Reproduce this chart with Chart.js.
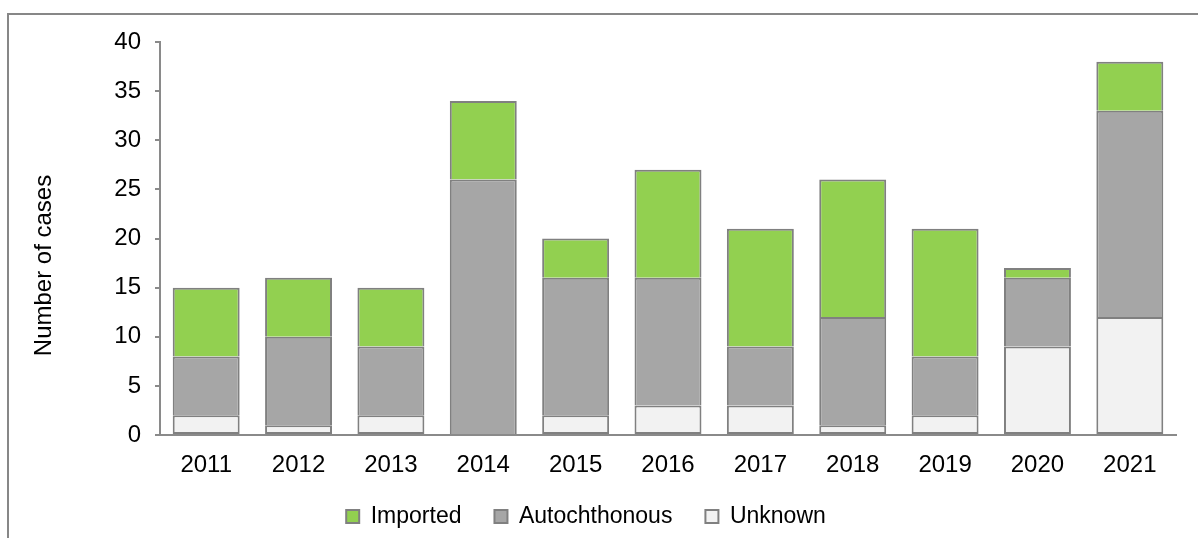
<!DOCTYPE html>
<html><head><meta charset="utf-8">
<script src="https://cdn.jsdelivr.net/npm/chart.js@4.4.1/dist/chart.umd.min.js"></script>
<style>
html,body{margin:0;padding:0;width:1198px;height:538px;overflow:hidden;background:#fff;}
#frame{position:absolute;left:7px;top:13px;width:1300px;height:700px;border-top:2px solid #878787;border-left:2px solid #878787;}
#wrap{position:absolute;left:-4px;top:0;width:1202px;height:538px;}
</style></head><body>
<div id="frame"></div>
<div id="wrap"><canvas id="c"></canvas></div>
<script>
const years = ['2011','2012','2013','2014','2015','2016','2017','2018','2019','2020','2021'];
const imported = [7, 6, 6, 8, 4, 11, 12, 14, 13, 1, 5];
const autochthonous = [6, 9, 7, 26, 14, 13, 6, 11, 6, 7, 21];
const unknown = [2, 1, 2, 0, 2, 3, 3, 1, 2, 9, 12];
const yMin = 0, yMax = 40, yStep = 5;
const yTitle = 'Number of cases';

const FONT = '"Liberation Sans", Arial, sans-serif';
const EDGE = '#808080';

const yTitlePlugin = {
  id: 'yTitlePlugin',
  afterDraw(chart) {
    const ctx = chart.ctx, a = chart.chartArea;
    ctx.save();
    ctx.font = '24px ' + FONT;
    ctx.fillStyle = '#000';
    ctx.textAlign = 'center';
    ctx.textBaseline = 'middle';
    ctx.translate(48, (a.top + a.bottom) / 2 + 27);
    ctx.rotate(-Math.PI / 2);
    ctx.fillText(yTitle, 0, 0);
    ctx.restore();
  }
};

const common = { borderColor: EDGE, borderSkipped: false, categoryPercentage: 1, barPercentage: 0.725 };

new Chart(document.getElementById('c'), {
  type: 'bar',
  data: {
    labels: years,
    datasets: [
      Object.assign({ label: 'Unknown', data: unknown, backgroundColor: '#F2F2F2',
        borderWidth: { top: 2, bottom: 2, left: 2, right: 2 } }, common),
      Object.assign({ label: 'Autochthonous', data: autochthonous, backgroundColor: '#A6A6A6',
        borderWidth: { top: 2, bottom: 0, left: 2, right: 2 } }, common),
      Object.assign({ label: 'Imported', data: imported, backgroundColor: '#92D050',
        borderWidth: { top: 2, bottom: 0, left: 2, right: 2 } }, common)
    ]
  },
  options: {
    responsive: true,
    maintainAspectRatio: false,
    devicePixelRatio: 1,
    animation: false,
    layout: { padding: { top: 42, left: 0, right: 22, bottom: 0 } },
    plugins: {
      tooltip: { enabled: false },
      legend: {
        position: 'bottom',
        reverse: true,
        labels: {
          font: { family: FONT, size: 23 }, color: '#000', boxWidth: 13, boxHeight: 13, padding: 33,
          generateLabels(chart) {
            return chart.data.datasets.map((d, i) => ({
              text: d.label, fillStyle: d.backgroundColor, strokeStyle: EDGE, lineWidth: 2,
              hidden: false, datasetIndex: i, fontColor: '#000'
            }));
          }
        }
      }
    },
    scales: {
      x: {
        stacked: true,
        grid: { display: false, drawTicks: false },
        border: { display: true, color: '#8a8a8a', width: 2 },
        ticks: { font: { family: FONT, size: 24 }, color: '#000', padding: 16, maxRotation: 0 },
        afterFit(s) { s.height = 37; }
      },
      y: {
        stacked: true,
        min: yMin, max: yMax,
        grid: { display: true, drawOnChartArea: false, drawTicks: true, tickLength: 5, color: '#8a8a8a', lineWidth: 2 },
        border: { display: true, color: '#8a8a8a', width: 2 },
        ticks: { stepSize: yStep, font: { family: FONT, size: 24 }, color: '#000', padding: 14 },
        afterFit(s) { s.width = 164; }
      }
    }
  },
  plugins: [yTitlePlugin]
});
</script>
</body></html>
